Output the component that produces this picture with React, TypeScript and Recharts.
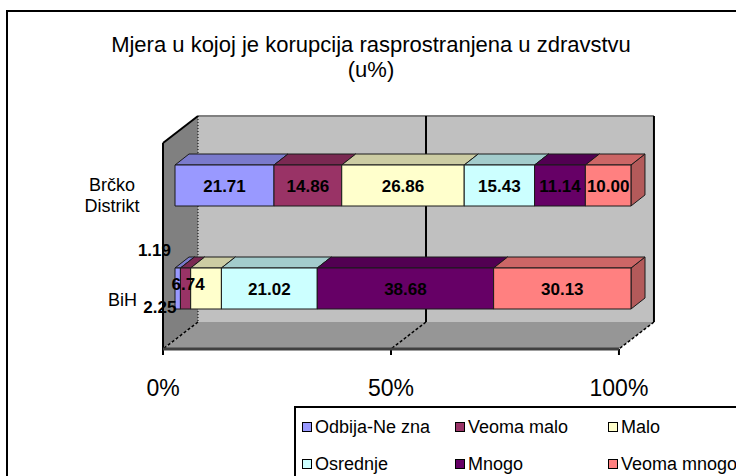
import { Bar, BarChart, LabelList, Legend, ReferenceArea, XAxis, YAxis } from "recharts";

const categories = ["Brčko Distrikt", "BiH"];
const seriesNames = ["Odbija-Ne zna", "Veoma malo", "Malo", "Osrednje", "Mnogo", "Veoma mnogo"];
const odbijaNeZna = [21.71, 1.19];
const veomaMalo = [14.86, 2.25];
const malo = [26.86, 6.74];
const osrednje = [15.43, 21.02];
const mnogo = [11.14, 38.68];
const veomaMnogo = [10.0, 30.13];
const xTicks = [0, 50, 100];

const seriesValues = [odbijaNeZna, veomaMalo, malo, osrednje, mnogo, veomaMnogo];
const seriesKeys = ["odbija", "veomaMalo", "malo", "osrednje", "mnogo", "veomaMnogo"];
const seriesColors = ["#9999FF", "#993366", "#FFFFCC", "#CCFFFF", "#660066", "#FF8080"];

const rows = categories.map((name, i) => {
  const row: Record<string, string | number> = { name };
  seriesKeys.forEach((k, s) => {
    row[k] = seriesValues[s][i];
  });
  return row;
});

const FONT = '"Liberation Sans", Arial, sans-serif';

// fake 3d: offsets of the front (axis) plane, the back wall and the bar depth
const FRONT = { dx: -12, dy: 9 };
const BACK = { dx: 23, dy: -18 };
const DEPTH = { dx: 14, dy: -11 };

function shade(hex: string, k: number) {
  const n = parseInt(hex.slice(1), 16);
  const c = [(n >> 16) & 255, (n >> 8) & 255, n & 255].map((v) => Math.round(v * k));
  return `rgb(${c[0]},${c[1]},${c[2]})`;
}

function Walls(props: any) {
  const { x, y, width: w, height: h } = props;
  const fx = x + FRONT.dx;
  const fTop = y + FRONT.dy;
  const fBottom = y + h + FRONT.dy;
  const bx = x + BACK.dx;
  const bTop = y + BACK.dy;
  const bBottom = y + h + BACK.dy;

  return (
    <g>
      <rect x={bx} y={bTop} width={w} height={h} fill="#C0C0C0" />
      <line x1={bx} y1={bTop} x2={bx + w} y2={bTop} stroke="#808080" strokeWidth={2} />
      <polygon
        points={`${fx},${fTop} ${bx},${bTop} ${bx},${bBottom} ${fx},${fBottom}`}
        fill="#808080"
      />
      <polygon
        points={`${fx},${fBottom} ${bx},${bBottom} ${bx + w},${bBottom} ${fx + w},${fBottom}`}
        fill="#969696"
      />
      {xTicks.map((t) => {
        const gx = (w * t) / 100;
        return (
          <g key={t}>
            <line
              x1={bx + gx}
              y1={bTop}
              x2={bx + gx}
              y2={bBottom}
              stroke="#000"
              strokeWidth={t === 0 ? 1 : 2}
              strokeDasharray={t === 0 ? "1 2" : undefined}
            />
            <line
              x1={bx + gx}
              y1={bBottom}
              x2={fx + gx}
              y2={fBottom}
              stroke="#000"
              strokeWidth={1.5}
              strokeDasharray="3 2"
            />
            <line x1={fx + gx} y1={fBottom} x2={fx + gx} y2={fBottom + 6} stroke="#000" strokeWidth={2} />
          </g>
        );
      })}
      <line x1={fx} y1={fTop} x2={bx} y2={bTop} stroke="#000" strokeWidth={2} />
      <line x1={fx} y1={fTop} x2={fx} y2={fBottom} stroke="#000" strokeWidth={2} />
      <line x1={fx} y1={fBottom} x2={fx + w} y2={fBottom} stroke="#404040" strokeWidth={3} />
    </g>
  );
}

function Box3D(props: any) {
  const { x, y, width, height, fill } = props;
  if (!width || width <= 0) return null;
  const { dx, dy } = DEPTH;
  const top = `${x},${y} ${x + dx},${y + dy} ${x + width + dx},${y + dy} ${x + width},${y}`;
  const side = `${x + width},${y} ${x + width + dx},${y + dy} ${x + width + dx},${y + height + dy} ${x + width},${y + height}`;
  return (
    <g stroke="#1a1a1a" strokeWidth={1} strokeLinejoin="round">
      <polygon points={side} fill={shade(fill, 0.7)} />
      <polygon points={top} fill={shade(fill, 0.8)} />
      <rect x={x} y={y} width={width} height={height} fill={fill} />
    </g>
  );
}

function makeLabel(series: number) {
  return (p: any) => {
    const vb = p.viewBox ?? p;
    const x = Number(vb.x ?? p.x);
    const y = Number(vb.y ?? p.y);
    const width = Number(vb.width ?? p.width);
    const height = Number(vb.height ?? p.height);
    let tx = x + width / 2;
    let ty = y + height / 2 + 6;
    let anchor: "middle" | "end" = "middle";
    // thin segments: labels pushed out of the bar like in the source
    if (width < 36) {
      if (series === 0) {
        anchor = "end";
        tx = x - 4;
        ty = y - 12;
      } else if (series === 1) {
        anchor = "end";
        tx = x - 4;
        ty = y + height + 4;
      } else {
        tx = x + width / 2 - 18;
        ty = y + height / 2 + 1;
      }
    }
    return (
      <text x={tx} y={ty} textAnchor={anchor} fontFamily={FONT} fontSize={17} fontWeight="bold" fill="#000">
        {Number(p.value).toFixed(2)}
      </text>
    );
  };
}

function CategoryTick({ x, y, payload }: any) {
  const words = String(payload.value).split(" ");
  if (words.length > 1) {
    return (
      <text fontFamily={FONT} fontSize={18} fill="#000" textAnchor="middle">
        {words.map((w, i) => (
          <tspan key={w} x={x - 63} y={y + 5.5 + i * 21}>
            {w}
          </tspan>
        ))}
      </text>
    );
  }
  return (
    <text x={x - 38} y={y + 17} fontFamily={FONT} fontSize={18} fill="#000" textAnchor="end">
      {payload.value}
    </text>
  );
}

function PercentTick({ x, y, payload }: any) {
  return (
    <text x={x + FRONT.dx} y={y + 56} fontFamily={FONT} fontSize={23} fill="#000" textAnchor="middle">
      {payload.value}%
    </text>
  );
}

function LegendBox(props: any) {
  const items = [...(props.payload ?? [])].sort(
    (a: any, b: any) => seriesNames.indexOf(a.value) - seriesNames.indexOf(b.value)
  );
  return (
    <div
      style={{
        position: "relative",
        width: 470,
        height: 90,
        border: "2px solid #000",
        background: "#fff",
        fontFamily: FONT,
        fontSize: 18,
        color: "#000",
      }}
    >
      {items.map((it: any, i: number) => {
        const col = i % 3;
        const row = Math.floor(i / 3);
        return (
          <div
            key={it.value}
            style={{
              position: "absolute",
              left: 6 + col * 153,
              top: 8 + row * 36.5,
              display: "flex",
              alignItems: "center",
              whiteSpace: "nowrap",
              lineHeight: "22px",
            }}
          >
            <span
              style={{
                display: "inline-block",
                width: 8,
                height: 8,
                border: "1.5px solid #000",
                background: it.color ?? seriesColors[i],
                marginRight: 3,
              }}
            />
            {it.value}
          </div>
        );
      })}
    </div>
  );
}

const titleLine = {
  position: "absolute" as const,
  left: 0,
  width: 742,
  textAlign: "center" as const,
  fontSize: 22,
  lineHeight: "22px",
  height: 22,
  color: "#000",
  whiteSpace: "nowrap" as const,
};

export default function App() {
  return (
    <div
      style={{
        position: "absolute",
        left: 0,
        top: 0,
        width: 736,
        height: 476,
        overflow: "hidden",
        background: "#fff",
        fontFamily: FONT,
      }}
    >
      <div
        style={{
          position: "absolute",
          left: 6,
          top: 10,
          width: 800,
          height: 600,
          border: "2px solid #000",
        }}
      />
      <div style={{ ...titleLine, top: 34 }}>Mjera u kojoj je korupcija rasprostranjena u zdravstvu</div>
      <div style={{ ...titleLine, top: 59 }}>(u%)</div>
      <div style={{ position: "absolute", left: 0, top: 0 }}>
        <BarChart
          width={736}
          height={476}
          data={rows}
          layout="vertical"
          margin={{ top: 134, right: 105, bottom: 106, left: 115 }}
        >
          <ReferenceArea x1={0} x2={100} shape={Walls} ifOverflow="visible" />
          <XAxis
            type="number"
            domain={[0, 100]}
            ticks={xTicks}
            height={30}
            axisLine={false}
            tickLine={false}
            tickSize={0}
            tickMargin={0}
            tick={PercentTick}
          />
          <YAxis
            type="category"
            dataKey="name"
            width={60}
            axisLine={false}
            tickLine={false}
            tickSize={0}
            tickMargin={0}
            tick={CategoryTick}
          />
          <Legend
            layout="horizontal"
            verticalAlign="middle"
            align="center"
            content={LegendBox}
            wrapperStyle={{ left: 294, top: 406, width: 480, height: 100 }}
          />
          {seriesKeys.map((k, s) => (
            <Bar
              key={k}
              dataKey={k}
              name={seriesNames[s]}
              stackId="a"
              fill={seriesColors[s]}
              barSize={41}
              shape={Box3D}
              isAnimationActive={false}
            >
              <LabelList dataKey={k} content={makeLabel(s)} />
            </Bar>
          ))}
        </BarChart>
      </div>
    </div>
  );
}
